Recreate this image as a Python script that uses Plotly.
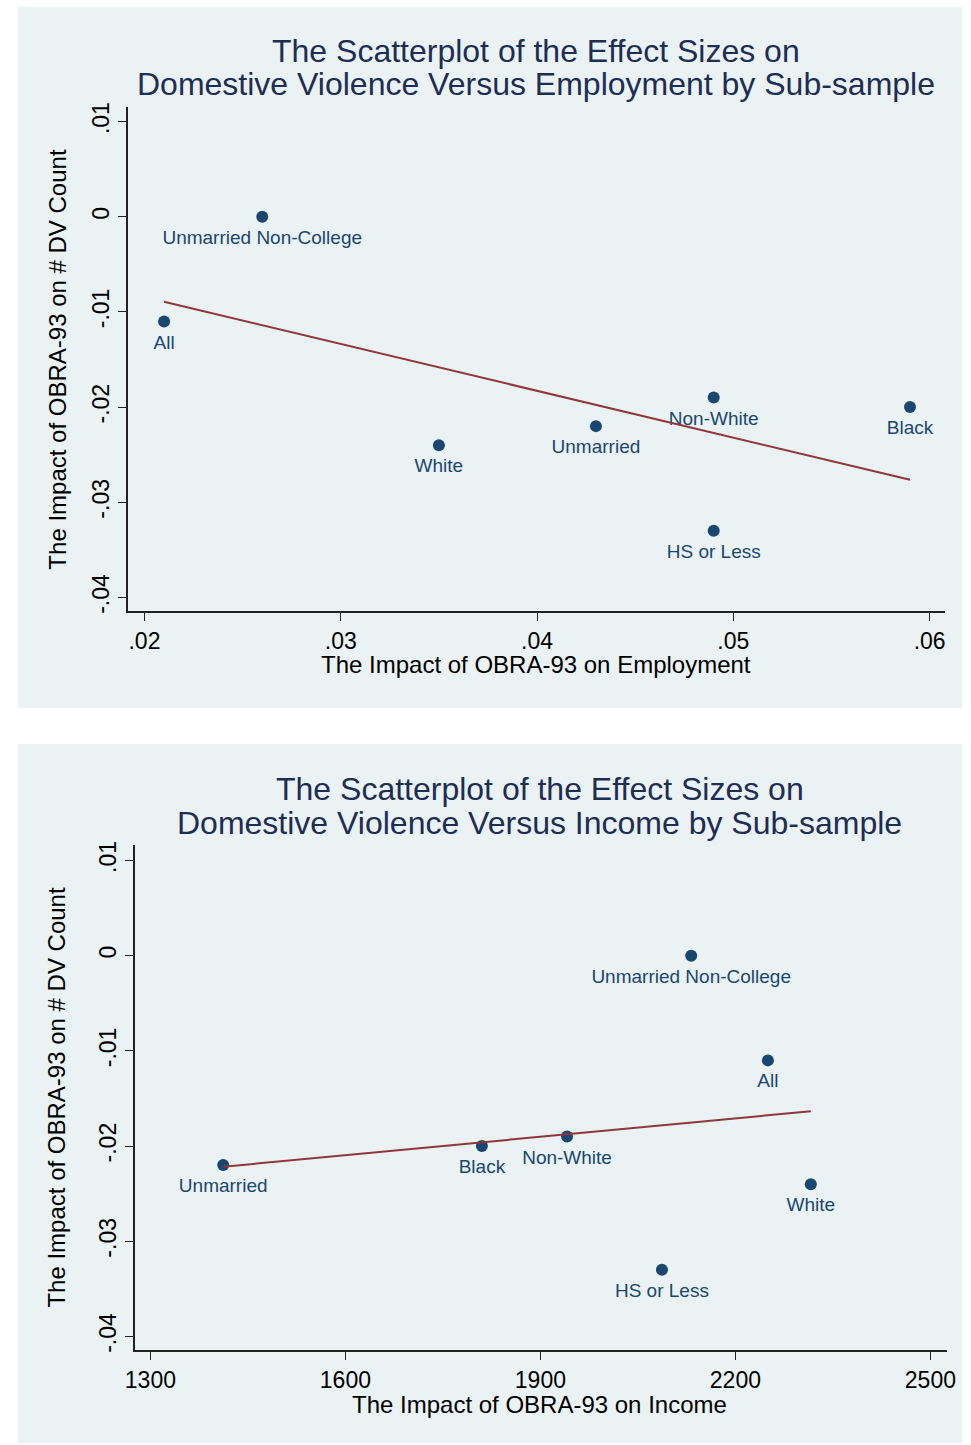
import numpy as np
import plotly.graph_objects as go

# Sub-sample effect sizes
groups = ["All", "Unmarried Non-College", "White", "Unmarried", "Non-White", "Black", "HS or Less"]
employment = [0.021, 0.026, 0.035, 0.043, 0.049, 0.059, 0.049]
income = [2250, 2132, 2316, 1412, 1941, 1810, 2087]
dv_count = [-0.011, 0.0, -0.024, -0.022, -0.019, -0.020, -0.033]

y_ticks = [0.01, 0.0, -0.01, -0.02, -0.03, -0.04]
y_tick_text = [".01", "0", "-.01", "-.02", "-.03", "-.04"]
emp_ticks = [0.02, 0.03, 0.04, 0.05, 0.06]
emp_tick_text = [".02", ".03", ".04", ".05", ".06"]
inc_ticks = [1300, 1600, 1900, 2200, 2500]
inc_tick_text = ["1300", "1600", "1900", "2200", "2500"]

W, H = 971, 1445
NAVY = "#1a476f"
MAROON = "#90353b"
PANEL = "#eaf2f3"
TITLE_C = "#1e2d53"
FONT = "Liberation Sans, Arial, sans-serif"


def px(x):
    return min(max(x / W, 0.0), 1.0)


def py(y):
    return min(max(1 - y / H, 0.0), 1.0)


def linfit(x, y):
    b, a = np.polyfit(np.asarray(x, float), np.asarray(y, float), 1)
    xs = np.array([min(x), max(x)], float)
    return xs, a + b * xs


fig = go.Figure()

# labels, points and linear fit for each panel
for xa, ya, xv in [("x", "y", employment), ("x2", "y2", income)]:
    fig.add_trace(go.Scatter(
        x=xv, y=dv_count, mode="markers+text", text=groups,
        textposition="bottom center",
        textfont=dict(family=FONT, size=19, color=NAVY),
        marker=dict(size=19, color="rgba(0,0,0,0)"),
        xaxis=xa, yaxis=ya, showlegend=False, cliponaxis=False, hoverinfo="skip",
    ))
    fig.add_trace(go.Scatter(
        x=xv, y=dv_count, mode="markers",
        marker=dict(size=12, color=NAVY),
        xaxis=xa, yaxis=ya, showlegend=False,
    ))
    fx, fy = linfit(xv, dv_count)
    fig.add_trace(go.Scatter(
        x=fx, y=fy, mode="lines", line=dict(color=MAROON, width=2),
        xaxis=xa, yaxis=ya, showlegend=False,
    ))

axis_common = dict(
    showline=True, linecolor="#222222", linewidth=1.5,
    ticks="outside", ticklen=8, tickcolor="#222222", tickwidth=1.2,
    tickfont=dict(family=FONT, size=23, color="black"),
    zeroline=False,
)

fig.update_layout(
    width=W, height=H,
    margin=dict(l=0, r=0, t=0, b=0),
    paper_bgcolor="white", plot_bgcolor="white",
    xaxis=dict(domain=[px(120), px(953)], range=[0.01915, 0.0608],
               tickvals=emp_ticks, ticktext=emp_tick_text, showgrid=False,
               anchor="y", **axis_common),
    yaxis=dict(domain=[py(610), py(103)], range=[-0.04147, 0.01157],
               tickvals=y_ticks, ticktext=y_tick_text, tickangle=-90,
               showgrid=True, gridcolor=PANEL, gridwidth=1.5,
               anchor="x", **axis_common),
    xaxis2=dict(domain=[px(127.5), px(955)], range=[1276.5, 2526],
                tickvals=inc_ticks, ticktext=inc_tick_text, showgrid=False,
                anchor="y2", **axis_common),
    yaxis2=dict(domain=[py(1352), py(845)], range=[-0.04146, 0.01157],
                tickvals=y_ticks, ticktext=y_tick_text, tickangle=-90,
                showgrid=True, gridcolor=PANEL, gridwidth=1.5,
                anchor="x2", **axis_common),
)

# graph-region backgrounds
for y0, y1 in [(3, 707), (743, 1445)]:
    fig.add_shape(type="rect", xref="paper", yref="paper",
                  x0=px(8), x1=px(970), y0=py(y1), y1=py(y0),
                  fillcolor=PANEL, line=dict(width=0), layer="below")

texts = [
    ("The Scatterplot of the Effect Sizes on", 536, 47, 32, TITLE_C, 0),
    ("Domestive Violence Versus Employment by Sub-sample", 536, 80, 32, TITLE_C, 0),
    ("The Impact of OBRA-93 on Employment", 536, 663, 24, "black", 0),
    ("The Impact of OBRA-93 on # DV Count", 48, 357, 24, "black", -90),
    ("The Scatterplot of the Effect Sizes on", 540, 788, 32, TITLE_C, 0),
    ("Domestive Violence Versus Income by Sub-sample", 540, 822, 32, TITLE_C, 0),
    ("The Impact of OBRA-93 on Income", 540, 1406, 24, "black", 0),
    ("The Impact of OBRA-93 on # DV Count", 47, 1098, 24, "black", -90),
]
for t, x, y, s, c, ang in texts:
    fig.add_annotation(text=t, x=px(x), y=py(y), xref="paper", yref="paper",
                       xanchor="center", yanchor="middle", showarrow=False,
                       textangle=ang, font=dict(family=FONT, size=s, color=c))

fig.write_html("out.html")
